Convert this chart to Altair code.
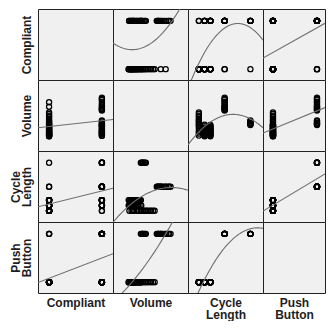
import altair as alt
import pandas as pd

# One entry per observation (rows grouped by cycle length and compliance)
compliant = [0, 0, 0, 0, 0, 0, 0, 0, 0, 0, 0, 0, 0, 0, 1, 1,
             0, 0, 0, 0, 0, 0, 0, 0, 0, 0, 0, 1, 1, 1, 1, 1, 1,
             0, 0, 0, 0, 0, 0, 0, 0, 0, 1, 1, 1, 1, 1, 1, 1, 1, 1, 1,
             0, 0, 1, 1, 1, 1, 1, 1, 1, 1, 1, 1, 1, 1,
             0, 1, 1, 1, 1, 1, 1]
volume = [210, 240, 280, 320, 350, 380, 410, 430, 450, 470, 500, 520, 548, 572, 260, 380,
          200, 212, 224, 236, 248, 260, 272, 290, 308, 332, 380, 206, 230, 254, 278, 314, 356,
          200, 218, 236, 254, 272, 296, 320, 344, 374, 206, 224, 242, 260, 278, 296, 314, 332, 350, 368,
          660, 730, 602, 612, 622, 634, 648, 664, 684, 708, 740, 770, 780, 800,
          404, 374, 386, 398, 416, 434, 446]
cycle_length = [60, 60, 60, 60, 60, 60, 60, 60, 60, 60, 60, 60, 60, 60, 60, 60,
                70, 70, 70, 70, 70, 70, 70, 70, 70, 70, 70, 70, 70, 70, 70, 70, 70,
                80, 80, 80, 80, 80, 80, 80, 80, 80, 80, 80, 80, 80, 80, 80, 80, 80, 80, 80,
                105, 105, 105, 105, 105, 105, 105, 105, 105, 105, 105, 105, 105, 105,
                150, 150, 150, 150, 150, 150, 150]
push_button = [0, 0, 0, 0, 0, 0, 0, 0, 0, 0, 0, 0, 0, 0, 0, 0,
               0, 0, 0, 0, 0, 0, 0, 0, 0, 0, 0, 0, 0, 0, 0, 0, 0,
               0, 0, 0, 0, 0, 0, 0, 0, 0, 0, 0, 0, 0, 0, 0, 0, 0, 0, 0,
               1, 1, 1, 1, 1, 1, 1, 1, 1, 1, 1, 1, 1, 1,
               1, 1, 1, 1, 1, 1, 1]

df = pd.DataFrame({"Compliant": compliant, "Volume": volume,
                   "Cycle": cycle_length, "Push": push_button})

# field, title, x-domain, fit method, cell width
variables = [
    ("Compliant", "Compliant", [-0.21, 1.21], "linear", 75),
    ("Volume", "Volume", [-25, 1050], "poly", 75),
    ("Cycle", ["Cycle", "Length"], [41, 172], "poly", 75),
    ("Push", ["Push", "Button"], [-0.227, 1.182], "linear", 62),
]
y_domains = {"Compliant": [-0.224, 1.245], "Volume": [-31, 1077],
             "Cycle": [39, 172], "Push": [-0.224, 1.245]}

CELL_H = 71

def make_axis(title, pad, lh):
    return alt.Axis(title=title, labels=False, ticks=False, domain=False,
                    grid=False, titlePadding=pad, titleLineHeight=lh)

cells = []
for i, (yf, ytitle, _, _, _) in enumerate(variables):
    for j, (xf, xtitle, xdom, method, w) in enumerate(variables):
        xaxis = make_axis(xtitle, 4, 12.5) if i == 3 else None
        yaxis = make_axis(ytitle, 5, 11) if j == 0 else None
        x = alt.X(f"{xf}:Q", scale=alt.Scale(domain=xdom, nice=False, zero=False), axis=xaxis)
        y = alt.Y(f"{yf}:Q", scale=alt.Scale(domain=y_domains[yf], nice=False, zero=False), axis=yaxis)
        base = alt.Chart(df)
        if i == j:
            c = base.mark_point(opacity=0).encode(x=x, y=y)
        else:
            pts = base.mark_point(shape="circle", filled=False, color="black",
                                  size=26, strokeWidth=1.3, opacity=1).encode(x=x, y=y)
            if method == "poly":
                reg = base.transform_regression(xf, yf, method="poly", order=2, extent=xdom)
            else:
                reg = base.transform_regression(xf, yf, method="linear", extent=xdom)
            line = reg.mark_line(color="#6e6e6e", strokeWidth=1.1, clip=True).encode(x=x, y=y)
            c = alt.layer(pts, line)
        cells.append(c.properties(width=w, height=CELL_H))

chart = (
    alt.concat(*cells, columns=4, spacing=0, bounds="flush", align="each")
    .resolve_scale(x="independent", y="independent")
    .configure_view(fill="#f0f0f0", stroke="#222222", strokeWidth=1)
    .configure_axis(titleFont="Liberation Sans", titleFontSize=12,
                    titleFontWeight="bold", titleColor="#1e1e1e")
    .properties(padding=0, background="white")
)

chart.save("out.html", embed_options={"renderer": "svg", "actions": False})
